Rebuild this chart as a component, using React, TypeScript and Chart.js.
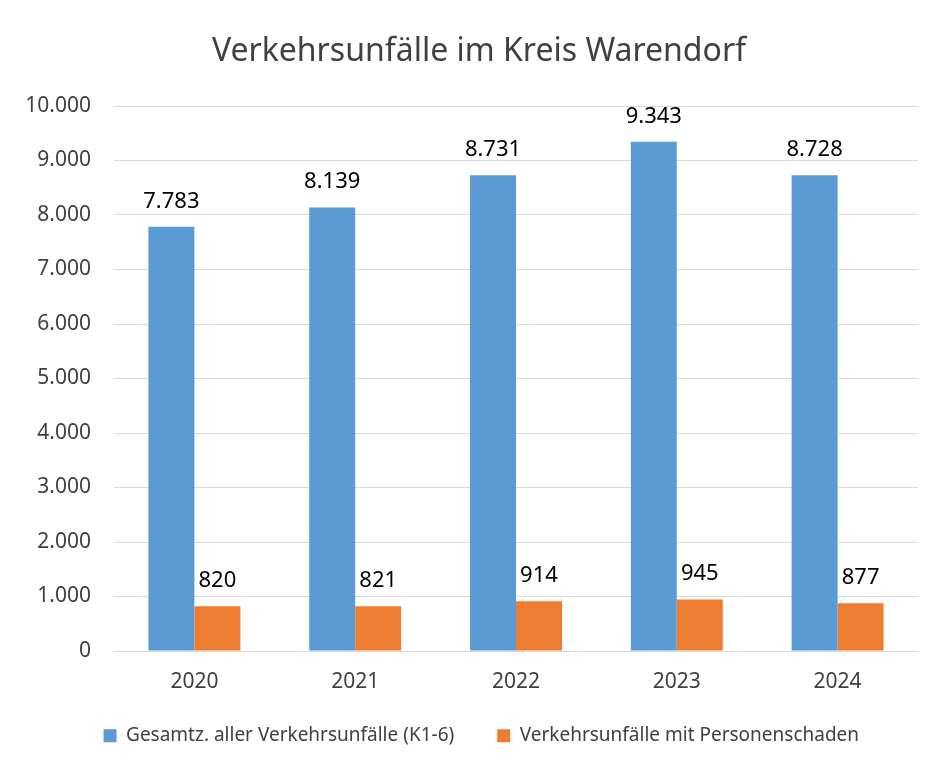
import React, { useEffect, useRef } from "react";
import { Chart, registerables } from "chart.js";

Chart.register(...registerables);

const chartTitle = "Verkehrsunfälle im Kreis Warendorf";
const categories = ["2020", "2021", "2022", "2023", "2024"];
const totalAccidents = [7783, 8139, 8731, 9343, 8728];
const injuryAccidents = [820, 821, 914, 945, 877];
const seriesLabels = [
  "Gesamtz. aller Verkehrsunfälle (K1-6)",
  "Verkehrsunfälle mit Personenschaden",
];
const seriesColors = ["#5B9BD5", "#ED7D31"];
const yMin = 0;
const yMax = 10000;
const yStep = 1000;

const FONT = "'Noto Sans'";
const TEXT = "#404040";
const TITLE_SIZE = 32;
const LEGEND_SIZE = 19;
const TICK_SIZE = 21;
const LABEL_SIZE = 22;

const fmt = (v: number) =>
  String(Math.round(v)).replace(/\B(?=(\d{3})+(?!\d))/g, ".");

const dataLabelPlugin = {
  id: "dataLabels",
  afterDatasetsDraw(chart: any) {
    const ctx = chart.ctx;
    ctx.save();
    ctx.font = `${LABEL_SIZE}px ${FONT}`;
    ctx.fillStyle = "#000000";
    ctx.textAlign = "center";
    ctx.textBaseline = "alphabetic";
    chart.data.datasets.forEach((ds: any, i: number) => {
      const meta = chart.getDatasetMeta(i);
      meta.data.forEach((el: any, j: number) => {
        ctx.fillText(fmt(ds.data[j]), el.x, el.y - 19);
      });
    });
    ctx.restore();
  },
};

// places the legend row and the title where the reference has them
const placePlugin = {
  id: "place",
  afterLayout(chart: any) {
    const lg = chart.legend;
    if (lg) {
      const pad = lg.options.labels.padding;
      const wantTop = 727.7 - LEGEND_SIZE / 2 - pad;
      const dy = wantTop - lg.top;
      lg.top += dy;
      lg.bottom += dy;
      const dx = 473.3 - (lg.left + lg.right) / 2;
      lg.left += dx;
      lg.right += dx;
    }
    const tb = chart.titleBlock;
    if (tb) {
      const dx = 471 - (tb.left + tb.right) / 2;
      tb.left += dx;
      tb.right += dx;
    }
  },
};

export default function App() {
  const canvasRef = useRef<HTMLCanvasElement | null>(null);

  useEffect(() => {
    if (!canvasRef.current) return;
    const legendPad = 43;
    const xPad = 18.9;
    const xAxisH = TICK_SIZE * 1.2 + 2 * xPad;
    const bottomPad = 750 - 643 - xAxisH - (LEGEND_SIZE + legendPad + 10);
    const titleCenter = 44;
    const chart = new Chart(canvasRef.current, {
      type: "bar",
      data: {
        labels: categories,
        datasets: [
          {
            label: seriesLabels[0],
            data: totalAccidents,
            backgroundColor: seriesColors[0],
            categoryPercentage: 0.572,
            barPercentage: 1,
          },
          {
            label: seriesLabels[1],
            data: injuryAccidents,
            backgroundColor: seriesColors[1],
            categoryPercentage: 0.572,
            barPercentage: 1,
          },
        ],
      },
      options: {
        animation: false,
        responsive: true,
        maintainAspectRatio: false,
        layout: { padding: { left: 0, right: 18, top: 0, bottom: bottomPad } },
        plugins: {
          title: {
            display: true,
            text: chartTitle,
            color: TEXT,
            font: { family: FONT, size: TITLE_SIZE, weight: "normal" as any },
            padding: {
              top: titleCenter - 0.6 * TITLE_SIZE,
              bottom: 98 - titleCenter - 0.6 * TITLE_SIZE,
            },
          },
          legend: {
            position: "bottom",
            labels: {
              boxWidth: 13,
              boxHeight: 13,
              padding: legendPad,
              color: TEXT,
              font: { family: FONT, size: LEGEND_SIZE },
            },
          },
          tooltip: { enabled: false },
        },
        scales: {
          x: {
            grid: { display: false, drawTicks: false },
            border: { display: false },
            ticks: {
              color: TEXT,
              font: { family: FONT, size: TICK_SIZE },
              padding: xPad,
            },
          },
          y: {
            min: yMin,
            max: yMax,
            grid: { color: "#D9D9D9", drawTicks: false, lineWidth: 1 },
            border: { display: false },
            ticks: {
              stepSize: yStep,
              color: TEXT,
              font: { family: FONT, size: TICK_SIZE },
              padding: 23,
              callback: (v: any) => fmt(Number(v)),
            },
            afterFit: (s: any) => {
              s.width = 106;
            },
          },
        },
      },
      plugins: [dataLabelPlugin, placePlugin],
    });
    return () => chart.destroy();
  }, []);

  return (
    <div
      style={{
        width: 928,
        height: 750,
        marginLeft: -1,
        marginTop: -1,
        borderLeft: "1px solid #D9D9D9",
        borderTop: "1px solid #D9D9D9",
        position: "relative",
      }}
    >
      <canvas ref={canvasRef} />
    </div>
  );
}
